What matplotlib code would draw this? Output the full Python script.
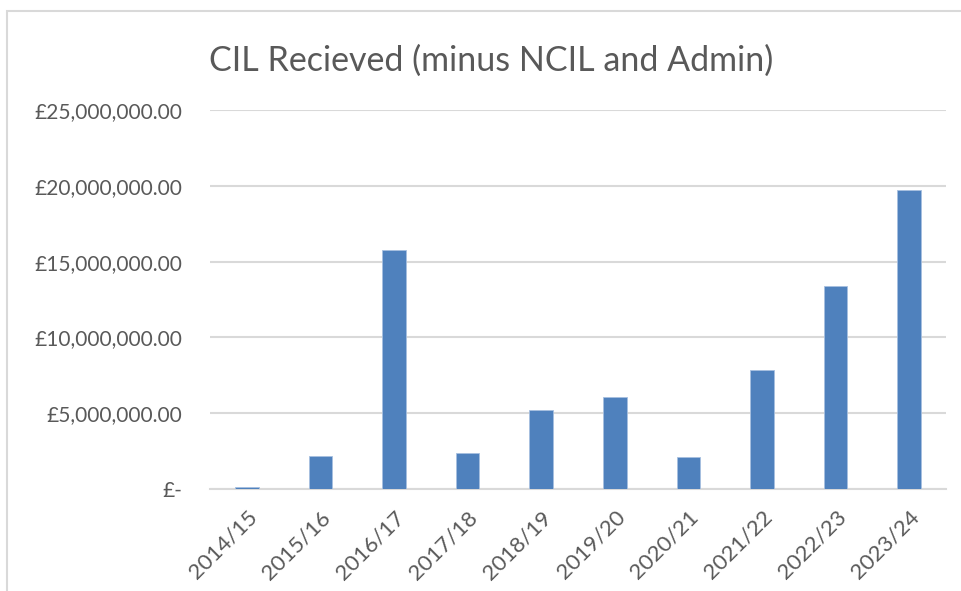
import numpy as np
import matplotlib.pyplot as plt
from matplotlib.patches import Rectangle
from matplotlib.ticker import FuncFormatter

years = ['2014/15', '2015/16', '2016/17', '2017/18', '2018/19',
         '2019/20', '2020/21', '2021/22', '2022/23', '2023/24']
cil = [150000, 2150000, 15780000, 2370000, 5210000,
       6080000, 2100000, 7820000, 13370000, 19740000]
yticks = [0, 5e6, 10e6, 15e6, 20e6, 25e6]

plt.rcParams['font.family'] = ['Lato', 'DejaVu Sans']
grey = '#595959'

fig = plt.figure(figsize=(9.62, 5.91), dpi=100)
# chart border
fig.patches.append(Rectangle((7/962, -0.05), 1.1, 1.05 - 11/591,
                             transform=fig.transFigure, fill=False,
                             edgecolor='#d9d9d9', linewidth=1.5))
ax = fig.add_axes([210/962, 1 - 489/591, 736/962, 379/591])

x = np.arange(len(years))
ax.bar(x, cil, width=0.32, color='#4f81bd', edgecolor='#a7c0e0',
       linewidth=0.6, zorder=3)

ax.set_xlim(-0.5, len(years) - 0.5)
ax.set_ylim(0, 25e6)
ax.set_yticks(yticks)


def money(v, pos):
    if v == 0:
        return '£-'
    return '£{:,.2f}'.format(v)


ax.yaxis.set_major_formatter(FuncFormatter(money))
ax.grid(axis='y', color='#d9d9d9', linewidth=1.5, zorder=0)
for s in ['top', 'right', 'left']:
    ax.spines[s].set_visible(False)
ax.spines['bottom'].set_color('#d9d9d9')
ax.spines['bottom'].set_linewidth(1.5)
ax.tick_params(length=0, colors=grey)
ax.tick_params(axis='y', pad=20, labelsize=15)
ax.set_xticks(x)
ax.set_xticklabels(years, rotation=45, ha='right', rotation_mode='anchor')
ax.tick_params(axis='x', pad=13, labelsize=16)

fig.text(491/962, 1 - 61/591, 'CIL Recieved (minus NCIL and Admin)',
         ha='center', va='center', fontsize=24.5, color=grey)

fig.savefig('out.png', dpi=100)
